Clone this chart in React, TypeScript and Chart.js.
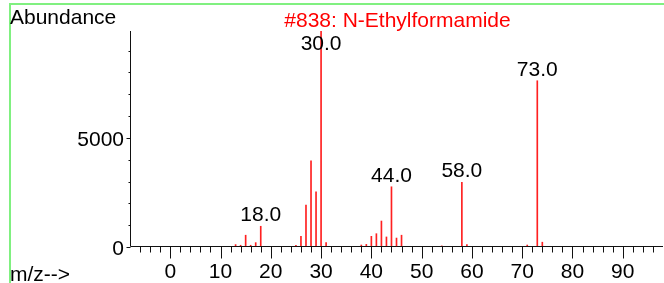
import React, { useEffect, useRef } from 'react';
import { Chart, registerables } from 'chart.js';

Chart.register(...registerables);

// m/z values and abundances
const mzValues = [13, 14, 15, 16, 17, 18, 25, 26, 27, 28, 29, 30, 31, 38, 39, 40, 41, 42, 43, 44, 45, 46, 54, 58, 59, 71, 73, 74];
const abundances = [110, 80, 540, 80, 200, 950, 80, 490, 1920, 3950, 2530, 9999, 200, 90, 120, 490, 610, 1190, 460, 2760, 410, 540, 50, 2960, 110, 90, 7620, 220];
const labeledPeaks = [18, 30, 44, 58, 73];
const xMajorTicks = [0, 10, 20, 30, 40, 50, 60, 70, 80, 90];
const yLabelTicks = [0, 5000];
const yMinorTicks = [0, 1000, 2000, 3000, 4000, 5000, 6000, 7000, 8000, 9000];
const titleText = '#838: N-Ethylformamide';
const yTitleText = 'Abundance';
const xTitleText = 'm/z-->';

const FONT = 'Liberation Sans, Arial, Helvetica, sans-serif';

const overlayPlugin = {
  id: 'overlay',
  afterDraw(chart: any) {
    const ctx = chart.ctx as CanvasRenderingContext2D;
    const { left, right, top, bottom } = chart.chartArea;
    const xs = chart.scales.x;
    const ys = chart.scales.y;
    ctx.save();
    // green frame
    ctx.fillStyle = '#80f080';
    ctx.fillRect(9, 3, chart.width - 9, 2);
    ctx.fillRect(9, 3, 2, chart.height - 3);

    const by = Math.round(bottom) - 0.5;
    const lx = Math.round(left) + 0.5;
    ctx.strokeStyle = '#111';
    ctx.lineWidth = 1;
    ctx.beginPath();
    ctx.moveTo(lx, by);
    ctx.lineTo(right, by);
    ctx.moveTo(lx, top);
    ctx.lineTo(lx, by);
    // x ticks
    for (let v = -6; v <= 96; v += 2) {
      const px = Math.round(xs.getPixelForValue(v)) + 0.5;
      const len = v % 10 === 0 ? 12 : 6;
      ctx.moveTo(px, by);
      ctx.lineTo(px, by + len);
    }
    // y ticks
    for (const v of yMinorTicks) {
      const py = Math.round(ys.getPixelForValue(v)) + 0.5;
      const len = v % 5000 === 0 ? 4 : 2;
      ctx.moveTo(lx, py);
      ctx.lineTo(lx - len, py);
    }
    ctx.stroke();

    ctx.font = `21px ${FONT}`;
    ctx.textBaseline = 'alphabetic';
    // tick labels
    ctx.fillStyle = '#000';
    ctx.textAlign = 'center';
    for (const v of xMajorTicks) {
      ctx.fillText(String(v), xs.getPixelForValue(v), 278);
    }
    ctx.textAlign = 'right';
    for (const v of yLabelTicks) {
      ctx.fillText(String(v), 124, ys.getPixelForValue(v) + 8);
    }

    // axis titles and chart title
    ctx.textAlign = 'left';
    ctx.fillText(yTitleText, 10, 24);
    ctx.fillText(xTitleText, 10, 281);
    ctx.fillStyle = '#ff0000';
    ctx.textAlign = 'center';
    ctx.fillText(titleText, 397.5, 27);

    // peak labels
    ctx.fillStyle = '#000';
    for (const mz of labeledPeaks) {
      const i = mzValues.indexOf(mz);
      const val = Math.min(abundances[i], ys.max);
      const px = xs.getPixelForValue(mz);
      const barTop = ys.getPixelForValue(val);
      const baseY = Math.max(barTop - 5, top + 19);
      ctx.fillText(mz.toFixed(1), px, baseY);
    }
    ctx.restore();
  },
};

export default function App() {
  const ref = useRef<HTMLCanvasElement | null>(null);
  useEffect(() => {
    if (!ref.current) return;
    const chart = new Chart(ref.current, {
      type: 'bar',
      data: {
        datasets: [
          {
            data: mzValues.map((x, i) => ({ x, y: abundances[i] })),
            backgroundColor: '#ff2020',
            borderWidth: 0,
            barThickness: 1,
          } as any,
        ],
      },
      options: {
        animation: false,
        responsive: false,
        devicePixelRatio: 1,
        layout: { padding: { top: 31, right: 1, left: 0, bottom: 0 } },
        plugins: { legend: { display: false }, tooltip: { enabled: false }, title: { display: false } },
        scales: {
          x: {
            type: 'linear',
            min: -8,
            max: 98,
            offset: false,
            grid: { display: false, drawTicks: false },
            border: { display: false },
            ticks: { display: false, stepSize: 2 },
            afterFit: (s: any) => {
              s.height = 36;
            },
          },
          y: {
            min: 0,
            max: 9900,
            grid: { display: false, drawTicks: false },
            border: { display: false },
            ticks: { display: false, stepSize: 1000 },
            afterFit: (s: any) => {
              s.width = 130;
            },
          },
        },
      },
      plugins: [overlayPlugin],
    });
    return () => chart.destroy();
  }, []);
  return (
    <div style={{ position: 'fixed', left: 0, top: 0, width: 664, height: 283, background: '#fff' }}>
      <canvas ref={ref} width={664} height={283} style={{ display: 'block' }} />
    </div>
  );
}
